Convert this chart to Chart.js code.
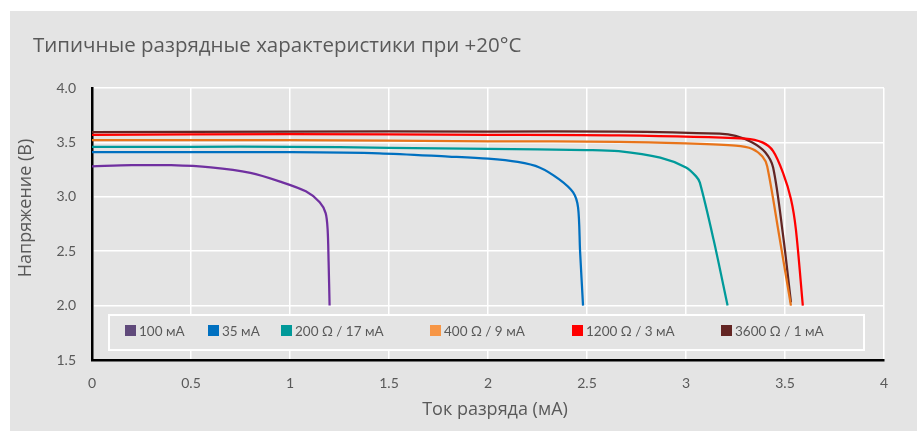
<!DOCTYPE html>
<html>
<head>
<meta charset="utf-8">
<script src="https://cdn.jsdelivr.net/npm/chart.js@4/dist/chart.umd.min.js"></script>
<style>
  html, body { margin: 0; padding: 0; background: #ffffff; }
  #wrap { width: 922px; height: 431px; position: relative; }
</style>
</head>
<body>
<div id="wrap"><canvas id="chart"></canvas></div>
<script>
// DATA //
const chartTitle = 'Типичные разрядные характеристики при +20°C';
const xAxisTitle = 'Ток разряда (мА)';
const yAxisTitle = 'Напряжение (B)';

const seriesLabels = ['100 мА', '35 мА', '200 Ω / 17 мА', '400 Ω / 9 мА', '1200 Ω / 3 мА', '3600 Ω / 1 мА'];

const current100 = [[0, 3.28], [0.2, 3.29], [0.4, 3.29], [0.6, 3.27], [0.8, 3.22], [0.95, 3.14], [1.08, 3.05], [1.15, 2.95], [1.18, 2.85], [1.19, 2.7], [1.195, 2.4], [1.2, 2.0]];
const current35 = [[0, 3.41], [0.5, 3.41], [1.0, 3.41], [1.45, 3.4], [1.8, 3.37], [2.0, 3.35], [2.15, 3.32], [2.26, 3.27], [2.36, 3.16], [2.43, 3.04], [2.455, 2.9], [2.465, 2.5], [2.48, 2.0]];
const load200 = [[0, 3.46], [0.5, 3.46], [1.0, 3.46], [1.5, 3.45], [2.0, 3.44], [2.5, 3.43], [2.66, 3.42], [2.87, 3.36], [3.0, 3.27], [3.05, 3.19], [3.07, 3.13], [3.14, 2.6], [3.21, 2.0]];
const load400 = [[0, 3.52], [1.0, 3.52], [2.0, 3.51], [2.66, 3.505], [3.0, 3.49], [3.25, 3.47], [3.335, 3.44], [3.386, 3.37], [3.41, 3.28], [3.47, 2.65], [3.53, 2.0]];
const load1200 = [[0, 3.57], [1.0, 3.575], [2.0, 3.57], [2.66, 3.565], [3.3, 3.535], [3.386, 3.5], [3.44, 3.42], [3.49, 3.22], [3.53, 2.98], [3.555, 2.7], [3.59, 2.0]];
const load3600 = [[0, 3.595], [1.0, 3.6], [2.0, 3.6], [2.66, 3.6], [3.17, 3.58], [3.25, 3.56], [3.335, 3.5], [3.4, 3.41], [3.44, 3.27], [3.49, 2.65], [3.53, 2.03]];

const xTicks = [0, 0.5, 1, 1.5, 2, 2.5, 3, 3.5, 4];
const yTicks = [1.5, 2.0, 2.5, 3.0, 3.5, 4.0];

// STYLES //
const lineColors = ['#7030a0', '#0070c0', '#009a9a', '#e8741a', '#ff0000', '#632523'];
const legendColors = ['#604a7b', '#0070c0', '#009999', '#f79646', '#ff0000', '#632523'];
const textColor = '#595959';
const bgColor = '#e4e4e4';
const fontFamily = 'Lato, "Open Sans", sans-serif';
const titleFamily = '"Open Sans", Lato, sans-serif';

const allSeries = [current100, current35, load200, load400, load1200, load3600];

const datasets = allSeries.map((points, idx) => ({
  label: seriesLabels[idx],
  data: points.map(([x, y]) => ({x, y})),
  borderColor: lineColors[idx],
  backgroundColor: legendColors[idx],
  borderWidth: 2.25,
  pointRadius: 0,
  tension: 0.3,
  fill: false
}));

// BACKGROUND, TITLES AND LEGEND //
const decorPlugin = {
  id: 'decor',
  beforeDraw(chart) {
    const ctx = chart.ctx;
    ctx.save();
    ctx.fillStyle = bgColor;
    ctx.fillRect(10, 11, 907, 420);
    ctx.restore();
  },
  afterDraw(chart) {
    const ctx = chart.ctx;
    const area = chart.chartArea;
    ctx.save();
    ctx.fillStyle = textColor;

    // chart title //
    ctx.font = `20.5px ${titleFamily}`;
    ctx.textAlign = 'left';
    ctx.textBaseline = 'alphabetic';
    ctx.fillText(chartTitle, 33, 52);

    // axis titles //
    ctx.font = `18px ${titleFamily}`;
    ctx.textAlign = 'center';
    ctx.textBaseline = 'middle';
    ctx.fillText(xAxisTitle, (area.left + area.right) / 2 + 7, 410);
    ctx.save();
    ctx.translate(26, 208);
    ctx.rotate(-Math.PI / 2);
    ctx.fillText(yAxisTitle, 0, 0);
    ctx.restore();

    // legend box //
    ctx.fillStyle = bgColor;
    ctx.fillRect(109, 315, 755, 35);
    ctx.strokeStyle = '#ffffff';
    ctx.lineWidth = 2;
    ctx.strokeRect(109, 315, 755, 35);

    const itemX = [125, 208, 281, 430, 572, 721];
    ctx.font = `13.5px ${fontFamily}`;
    ctx.textAlign = 'left';
    ctx.textBaseline = 'middle';
    chart.data.datasets.forEach((ds, idx) => {
      ctx.fillStyle = ds.backgroundColor;
      ctx.fillRect(itemX[idx], 325, 11, 11);
      ctx.fillStyle = textColor;
      ctx.fillText(ds.label, itemX[idx] + 14, 332);
    });
    ctx.restore();
  }
};

const chart = new Chart(document.getElementById('chart'), {
  type: 'line',
  data: {datasets},
  plugins: [decorPlugin],
  options: {
    responsive: true,
    maintainAspectRatio: false,
    animation: false,
    layout: {padding: {top: 88, right: 38, bottom: 31, left: 52}},
    plugins: {
      legend: {display: false},
      title: {display: false},
      tooltip: {enabled: false}
    },
    scales: {
      x: {
        type: 'linear',
        min: 0,
        max: 4,
        afterFit: (scale) => { scale.height = 40; },
        afterBuildTicks: (scale) => { scale.ticks = xTicks.map(v => ({value: v})); },
        grid: {color: '#ffffff', lineWidth: 1.5, drawTicks: false},
        border: {color: '#000000', width: 2.5},
        ticks: {
          padding: 15,
          color: textColor,
          font: {family: fontFamily, size: 14},
          maxRotation: 0,
          callback: (v) => String(v)
        }
      },
      y: {
        min: 1.5,
        max: 4,
        afterFit: (scale) => { scale.width = 40; },
        afterBuildTicks: (scale) => { scale.ticks = yTicks.map(v => ({value: v})); },
        grid: {color: '#ffffff', lineWidth: 1.5, drawTicks: false},
        border: {color: '#000000', width: 2.5},
        ticks: {
          padding: 16,
          color: textColor,
          font: {family: fontFamily, size: 14},
          callback: (v) => Number(v).toFixed(1)
        }
      }
    }
  }
});
</script>
</body>
</html>
